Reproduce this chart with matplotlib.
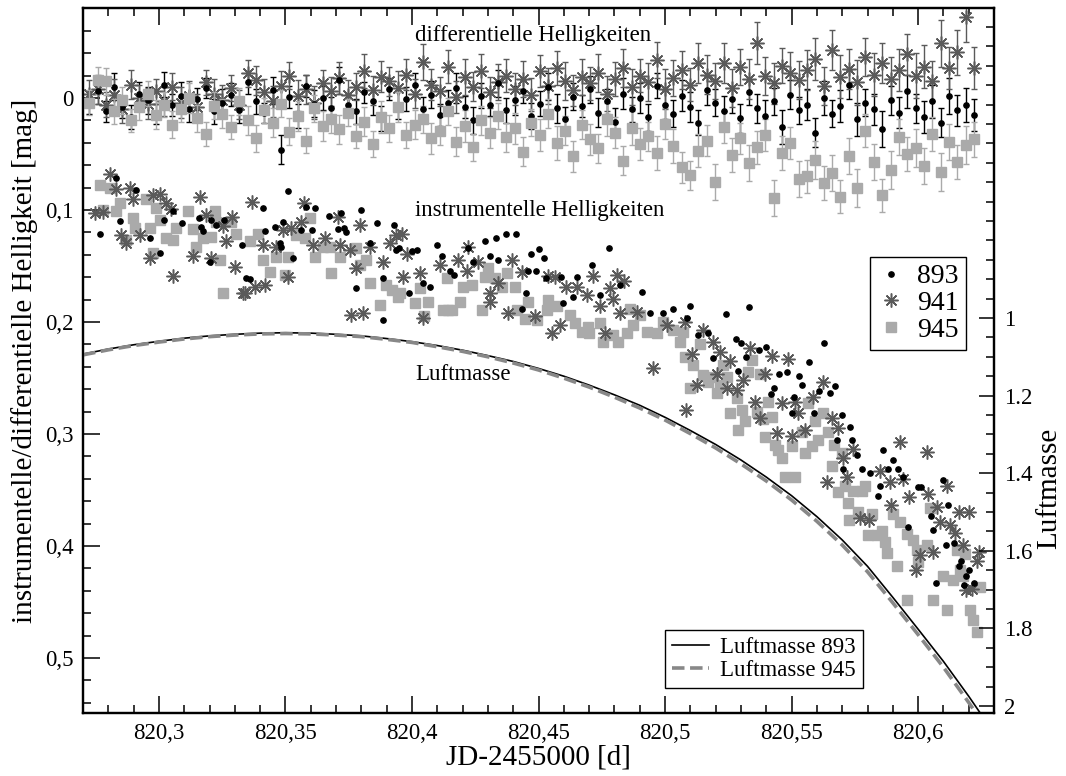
import matplotlib
matplotlib.use('Agg')
import matplotlib.pyplot as plt
from matplotlib.ticker import MultipleLocator, FuncFormatter
import numpy as np

plt.rcParams['font.family'] = ['Liberation Serif', 'DejaVu Serif']
plt.rcParams['lines.scale_dashes'] = False

# --- Luftmasse (airmass) curves ---
t_am = [820.27, 820.28, 820.29, 820.30, 820.31, 820.32, 820.33, 820.34, 820.35, 820.36,
        820.37, 820.38, 820.39, 820.40, 820.41, 820.42, 820.43, 820.44, 820.45, 820.46,
        820.47, 820.48, 820.49, 820.50, 820.51, 820.52, 820.53, 820.54, 820.55, 820.56,
        820.57, 820.58, 820.59, 820.60, 820.61, 820.62, 820.63]
am_893 = [1.093, 1.080, 1.069, 1.060, 1.052, 1.046, 1.042, 1.039, 1.038, 1.039,
          1.042, 1.046, 1.053, 1.061, 1.071, 1.083, 1.097, 1.112, 1.130, 1.150,
          1.173, 1.198, 1.225, 1.256, 1.290, 1.326, 1.366, 1.410, 1.458, 1.512,
          1.572, 1.640, 1.720, 1.802, 1.885, 1.975, 2.070]
am_945 = [1.095, 1.082, 1.071, 1.062, 1.054, 1.048, 1.044, 1.041, 1.040, 1.041,
          1.044, 1.048, 1.055, 1.063, 1.074, 1.086, 1.100, 1.116, 1.134, 1.155,
          1.178, 1.204, 1.232, 1.263, 1.298, 1.335, 1.376, 1.420, 1.469, 1.524,
          1.585, 1.654, 1.734, 1.816, 1.900, 1.991, 2.086]

# --- instrumentelle Helligkeiten ---
t893_i = [820.2766, 820.2830, 820.2845, 820.2910, 820.2965, 820.3004, 820.3020, 820.3055, 820.3090, 820.3160,
          820.3165, 820.3174, 820.3200, 820.3206, 820.3226, 820.3258, 820.3330, 820.3345, 820.3360, 820.3410,
          820.3420, 820.3459, 820.3480, 820.3483, 820.3490, 820.3510, 820.3530, 820.3560, 820.3580, 820.3605,
          820.3615, 820.3670, 820.3708, 820.3720, 820.3730, 820.3740, 820.3780, 820.3800, 820.3834, 820.3860,
          820.3885, 820.3886, 820.3930, 820.3937, 820.3950, 820.3990, 820.4000, 820.4020, 820.4044, 820.4070,
          820.4100, 820.4120, 820.4150, 820.4165, 820.4220, 820.4240, 820.4290, 820.4310, 820.4330, 820.4340,
          820.4370, 820.4410, 820.4435, 820.4450, 820.4460, 820.4470, 820.4490, 820.4500, 820.4520, 820.4530,
          820.4590, 820.4597, 820.4637, 820.4650, 820.4710, 820.4743, 820.4780, 820.4820, 820.4910, 820.4941,
          820.4992, 820.5030, 820.5087, 820.5099, 820.5130, 820.5170, 820.5190, 820.5240, 820.5280, 820.5290,
          820.5300, 820.5320, 820.5330, 820.5370, 820.5400, 820.5420, 820.5430, 820.5450, 820.5480, 820.5500,
          820.5510, 820.5530, 820.5540, 820.5570, 820.5590, 820.5610, 820.5630, 820.5650, 820.5670, 820.5680,
          820.5700, 820.5705, 820.5730, 820.5740, 820.5760, 820.5780, 820.5810, 820.5840, 820.5850, 820.5860,
          820.5880, 820.5900, 820.5920, 820.5940, 820.5960, 820.6000, 820.6010, 820.6050, 820.6060, 820.6070,
          820.6100, 820.6110, 820.6120, 820.6140, 820.6160, 820.6170, 820.6180, 820.6190, 820.6200, 820.6220]
m893_i = [0.121, 0.071, 0.110, 0.082, 0.125, 0.138, 0.109, 0.101, 0.112, 0.107,
          0.115, 0.119, 0.146, 0.109, 0.113, 0.109, 0.131, 0.161, 0.162, 0.098,
          0.119, 0.115, 0.129, 0.133, 0.111, 0.083, 0.143, 0.118, 0.097, 0.118,
          0.098, 0.105, 0.117, 0.103, 0.116, 0.120, 0.170, 0.100, 0.129, 0.112,
          0.198, 0.161, 0.113, 0.136, 0.134, 0.174, 0.137, 0.136, 0.165, 0.169,
          0.131, 0.141, 0.154, 0.158, 0.134, 0.146, 0.128, 0.141, 0.125, 0.145,
          0.121, 0.121, 0.188, 0.174, 0.154, 0.139, 0.154, 0.135, 0.143, 0.161,
          0.160, 0.183, 0.178, 0.160, 0.149, 0.176, 0.134, 0.167, 0.173, 0.192,
          0.192, 0.188, 0.196, 0.186, 0.212, 0.210, 0.232, 0.193, 0.215, 0.244,
          0.219, 0.231, 0.187, 0.225, 0.222, 0.264, 0.259, 0.246, 0.245, 0.281,
          0.267, 0.248, 0.256, 0.236, 0.281, 0.262, 0.219, 0.263, 0.257, 0.305,
          0.283, 0.331, 0.294, 0.305, 0.319, 0.331, 0.335, 0.355, 0.346, 0.314,
          0.331, 0.323, 0.331, 0.338, 0.383, 0.347, 0.347, 0.373, 0.386, 0.433,
          0.341, 0.399, 0.363, 0.397, 0.418, 0.413, 0.435, 0.427, 0.421, 0.433]

t941_i = [820.2747, 820.2779, 820.2807, 820.2830, 820.2850, 820.2870, 820.2886, 820.2898, 820.2925, 820.2965,
          820.2977, 820.3004, 820.3028, 820.3048, 820.3056, 820.3135, 820.3162, 820.3186, 820.3206, 820.3253,
          820.3265, 820.3289, 820.3301, 820.3332, 820.3340, 820.3368, 820.3380, 820.3411, 820.3419, 820.3463,
          820.3491, 820.3510, 820.3522, 820.3562, 820.3574, 820.3609, 820.3657, 820.3708, 820.3716, 820.3755,
          820.3760, 820.3779, 820.3795, 820.3807, 820.3834, 820.3886, 820.3913, 820.3937, 820.3961, 820.3965,
          820.3981, 820.4032, 820.4044, 820.4111, 820.4182, 820.4218, 820.4222, 820.4261, 820.4309, 820.4310,
          820.4340, 820.4380, 820.4396, 820.4435, 820.4487, 820.4538, 820.4554, 820.4566, 820.4585, 820.4609,
          820.4653, 820.4692, 820.4716, 820.4743, 820.4763, 820.4783, 820.4795, 820.4811, 820.4823, 820.4838,
          820.4890, 820.4953, 820.5008, 820.5079, 820.5082, 820.5107, 820.5127, 820.5151, 820.5190, 820.5206,
          820.5218, 820.5245, 820.5257, 820.5285, 820.5309, 820.5336, 820.5356, 820.5376, 820.5396, 820.5423,
          820.5443, 820.5463, 820.5487, 820.5502, 820.5514, 820.5526, 820.5554, 820.5585, 820.5625, 820.5641,
          820.5660, 820.5684, 820.5704, 820.5720, 820.5743, 820.5771, 820.5807, 820.5850, 820.5890, 820.5892,
          820.5929, 820.5941, 820.5965, 820.5992, 820.6008, 820.6036, 820.6040, 820.6060, 820.6075, 820.6087,
          820.6115, 820.6127, 820.6147, 820.6162, 820.6178, 820.6190, 820.6202, 820.6214, 820.6234, 820.6241]
m941_i = [0.103, 0.102, 0.068, 0.081, 0.122, 0.129, 0.080, 0.090, 0.122, 0.143,
          0.087, 0.086, 0.094, 0.099, 0.159, 0.141, 0.088, 0.104, 0.143, 0.114,
          0.128, 0.106, 0.151, 0.174, 0.174, 0.093, 0.169, 0.131, 0.167, 0.133,
          0.118, 0.160, 0.116, 0.111, 0.094, 0.131, 0.125, 0.106, 0.131, 0.136,
          0.194, 0.152, 0.113, 0.192, 0.133, 0.146, 0.129, 0.122, 0.121, 0.160,
          0.139, 0.156, 0.196, 0.149, 0.145, 0.154, 0.133, 0.146, 0.174, 0.182,
          0.165, 0.192, 0.145, 0.155, 0.195, 0.159, 0.210, 0.160, 0.203, 0.169,
          0.169, 0.176, 0.159, 0.186, 0.210, 0.170, 0.179, 0.158, 0.192, 0.163,
          0.191, 0.241, 0.203, 0.200, 0.279, 0.229, 0.256, 0.207, 0.218, 0.246,
          0.227, 0.259, 0.235, 0.261, 0.252, 0.223, 0.271, 0.286, 0.246, 0.230,
          0.299, 0.272, 0.233, 0.302, 0.271, 0.281, 0.296, 0.267, 0.254, 0.343,
          0.286, 0.295, 0.321, 0.338, 0.313, 0.375, 0.377, 0.333, 0.343, 0.363,
          0.307, 0.340, 0.356, 0.421, 0.408, 0.316, 0.354, 0.405, 0.365, 0.379,
          0.346, 0.381, 0.388, 0.370, 0.399, 0.439, 0.370, 0.438, 0.413, 0.405]

t945_i = [820.2766, 820.2779, 820.2807, 820.2830, 820.2846, 820.2870, 820.2898, 820.2906, 820.2949, 820.2965,
          820.2977, 820.2989, 820.3004, 820.3028, 820.3056, 820.3068, 820.3115, 820.3135, 820.3147, 820.3174,
          820.3206, 820.3222, 820.3226, 820.3242, 820.3253, 820.3285, 820.3305, 820.3360, 820.3392, 820.3411,
          820.3439, 820.3463, 820.3498, 820.3510, 820.3542, 820.3577, 820.3597, 820.3617, 820.3649, 820.3676,
          820.3680, 820.3716, 820.3779, 820.3795, 820.3819, 820.3834, 820.3874, 820.3898, 820.3921, 820.3945,
          820.3953, 820.4012, 820.4032, 820.4048, 820.4064, 820.4123, 820.4139, 820.4141, 820.4158, 820.4190,
          820.4202, 820.4238, 820.4277, 820.4289, 820.4301, 820.4328, 820.4356, 820.4376, 820.4408, 820.4415,
          820.4447, 820.4459, 820.4494, 820.4534, 820.4538, 820.4573, 820.4625, 820.4645, 820.4672, 820.4696,
          820.4698, 820.4743, 820.4755, 820.4795, 820.4815, 820.4850, 820.4862, 820.4874, 820.4902, 820.4929,
          820.4969, 820.4992, 820.5032, 820.5060, 820.5072, 820.5079, 820.5099, 820.5111, 820.5139, 820.5151,
          820.5170, 820.5190, 820.5206, 820.5218, 820.5230, 820.5245, 820.5257, 820.5285, 820.5289, 820.5305,
          820.5316, 820.5328, 820.5344, 820.5364, 820.5376, 820.5388, 820.5396, 820.5407, 820.5423, 820.5435,
          820.5447, 820.5463, 820.5475, 820.5502, 820.5514, 820.5542, 820.5554, 820.5566, 820.5581, 820.5593,
          820.5605, 820.5625, 820.5645, 820.5660, 820.5668, 820.5684, 820.5700, 820.5712, 820.5724, 820.5725,
          820.5743, 820.5763, 820.5779, 820.5791, 820.5803, 820.5819, 820.5838, 820.5858, 820.5870, 820.5878,
          820.5902, 820.5917, 820.5929, 820.5957, 820.5958, 820.5981, 820.5996, 820.6000, 820.6036, 820.6048,
          820.6060, 820.6099, 820.6115, 820.6139, 820.6155, 820.6166, 820.6178, 820.6186, 820.6206, 820.6218,
          820.6234, 820.6245]
m945_i = [0.078, 0.100, 0.080, 0.101, 0.094, 0.127, 0.107, 0.116, 0.090, 0.116,
          0.138, 0.098, 0.109, 0.125, 0.127, 0.116, 0.101, 0.117, 0.133, 0.125,
          0.124, 0.101, 0.111, 0.145, 0.174, 0.111, 0.121, 0.128, 0.121, 0.145,
          0.155, 0.142, 0.158, 0.142, 0.122, 0.125, 0.107, 0.142, 0.133, 0.133,
          0.156, 0.142, 0.134, 0.149, 0.145, 0.165, 0.185, 0.167, 0.171, 0.178,
          0.174, 0.183, 0.170, 0.195, 0.182, 0.189, 0.161, 0.189, 0.189, 0.182,
          0.169, 0.167, 0.189, 0.160, 0.152, 0.161, 0.169, 0.156, 0.169, 0.189,
          0.197, 0.182, 0.198, 0.189, 0.180, 0.186, 0.194, 0.201, 0.209, 0.204,
          0.210, 0.201, 0.218, 0.212, 0.218, 0.210, 0.188, 0.203, 0.194, 0.209,
          0.210, 0.200, 0.207, 0.218, 0.209, 0.231, 0.259, 0.238, 0.220, 0.247,
          0.254, 0.249, 0.263, 0.256, 0.238, 0.249, 0.281, 0.268, 0.296, 0.279,
          0.288, 0.245, 0.234, 0.280, 0.246, 0.287, 0.303, 0.271, 0.285, 0.310,
          0.314, 0.321, 0.338, 0.311, 0.338, 0.298, 0.317, 0.272, 0.311, 0.288,
          0.305, 0.281, 0.298, 0.329, 0.310, 0.352, 0.317, 0.346, 0.362, 0.377,
          0.351, 0.370, 0.351, 0.346, 0.390, 0.371, 0.390, 0.387, 0.396, 0.406,
          0.371, 0.418, 0.379, 0.389, 0.448, 0.395, 0.404, 0.414, 0.399, 0.366,
          0.448, 0.427, 0.457, 0.430, 0.404, 0.421, 0.427, 0.407, 0.457, 0.466,
          0.477, 0.437]

# --- differentielle Helligkeiten (same frames for all three stars) ---
t_diff = [820.2725, 820.2758, 820.2790, 820.2822, 820.2855, 820.2890, 820.2921, 820.2955, 820.2988, 820.3020,
          820.3053, 820.3087, 820.3120, 820.3152, 820.3186, 820.3218, 820.3251, 820.3285, 820.3317, 820.3350,
          820.3384, 820.3416, 820.3449, 820.3482, 820.3515, 820.3548, 820.3581, 820.3614, 820.3647, 820.3680,
          820.3713, 820.3746, 820.3779, 820.3812, 820.3845, 820.3878, 820.3911, 820.3944, 820.3977, 820.4010,
          820.4043, 820.4076, 820.4109, 820.4142, 820.4175, 820.4208, 820.4241, 820.4274, 820.4307, 820.4340,
          820.4373, 820.4406, 820.4439, 820.4472, 820.4505, 820.4538, 820.4571, 820.4604, 820.4637, 820.4670,
          820.4703, 820.4736, 820.4769, 820.4802, 820.4835, 820.4868, 820.4901, 820.4934, 820.4967, 820.5000,
          820.5033, 820.5066, 820.5099, 820.5132, 820.5165, 820.5198, 820.5231, 820.5264, 820.5297, 820.5330,
          820.5363, 820.5396, 820.5429, 820.5462, 820.5495, 820.5528, 820.5561, 820.5594, 820.5627, 820.5660,
          820.5693, 820.5726, 820.5759, 820.5792, 820.5825, 820.5858, 820.5891, 820.5924, 820.5957, 820.5990,
          820.6023, 820.6056, 820.6089, 820.6122, 820.6155, 820.6188, 820.6221]
d893 = [0.004, -0.006, 0.012, -0.010, 0.008, 0.017, -0.004, 0.002, 0.014, -0.012,
        0.006, -0.002, 0.010, 0.001, -0.009, 0.012, 0.004, -0.003, 0.011, -0.014,
        0.003, 0.013, -0.007, 0.046, -0.001, 0.016, -0.011, 0.005, 0.000, 0.009,
        -0.016, 0.006, 0.012, -0.005, 0.003, 0.018, -0.008, 0.007, 0.001, -0.012,
        0.010, -0.003, 0.015, 0.004, -0.009, 0.008, 0.020, -0.002, 0.006, -0.013,
        0.011, 0.002, -0.006, 0.016, 0.005, -0.010, 0.009, 0.019, -0.001, 0.007,
        -0.008, 0.013, 0.003, 0.021, -0.004, 0.010, 0.000, 0.017, -0.011, 0.006,
        0.014, -0.002, 0.008, 0.022, -0.007, 0.004, 0.012, 0.001, 0.018, -0.005,
        0.009, 0.016, 0.003, 0.026, -0.003, 0.011, 0.006, 0.031, 0.000, 0.014,
        0.007, -0.012, 0.019, 0.004, 0.010, 0.028, 0.002, 0.013, -0.006, 0.009,
        0.017, 0.003, 0.022, -0.002, 0.011, 0.006, 0.015]
e893 = [0.010, 0.011, 0.009, 0.012, 0.010, 0.011, 0.010, 0.012, 0.009, 0.011,
        0.010, 0.012, 0.011, 0.010, 0.009, 0.011, 0.012, 0.010, 0.011, 0.010,
        0.011, 0.009, 0.012, 0.013, 0.010, 0.011, 0.010, 0.012, 0.011, 0.010,
        0.012, 0.010, 0.011, 0.009, 0.012, 0.011, 0.010, 0.012, 0.011, 0.010,
        0.011, 0.012, 0.010, 0.011, 0.013, 0.010, 0.012, 0.011, 0.010, 0.012,
        0.011, 0.013, 0.010, 0.012, 0.011, 0.012, 0.013, 0.011, 0.012, 0.010,
        0.012, 0.013, 0.011, 0.012, 0.014, 0.011, 0.013, 0.012, 0.011, 0.013,
        0.012, 0.014, 0.013, 0.011, 0.013, 0.012, 0.014, 0.012, 0.013, 0.011,
        0.013, 0.014, 0.012, 0.015, 0.013, 0.012, 0.014, 0.013, 0.015, 0.012,
        0.014, 0.013, 0.015, 0.012, 0.014, 0.016, 0.013, 0.014, 0.015, 0.013,
        0.014, 0.015, 0.013, 0.016, 0.014, 0.015, 0.014]
d941 = [-0.004, -0.008, 0.006, -0.003, 0.010, -0.012, 0.000, 0.005, -0.006, 0.003,
        -0.010, 0.004, -0.002, 0.008, -0.014, -0.004, 0.002, -0.009, 0.006, -0.022,
        -0.016, -0.005, 0.003, -0.011, -0.020, -0.002, -0.008, 0.004, -0.013, -0.006,
        -0.018, -0.003, -0.010, -0.024, -0.007, -0.019, -0.015, -0.009, -0.021, -0.004,
        -0.032, -0.012, -0.006, -0.028, -0.001, -0.019, -0.010, -0.024, -0.005, -0.014,
        -0.020, -0.008, -0.017, -0.003, -0.024, -0.011, -0.027, -0.015, -0.007, -0.019,
        -0.013, -0.022, -0.004, -0.017, -0.027, -0.010, -0.020, -0.014, -0.034, -0.008,
        -0.018, -0.025, -0.012, -0.031, -0.021, -0.015, -0.031, -0.009, -0.028, -0.017,
        -0.049, -0.020, -0.013, -0.029, -0.022, -0.016, -0.025, -0.035, -0.011, -0.043,
        -0.019, -0.026, -0.014, -0.037, -0.021, -0.031, -0.017, -0.025, -0.039, -0.020,
        -0.028, -0.015, -0.049, -0.027, -0.041, -0.072, -0.027]
e941 = [0.012, 0.013, 0.011, 0.014, 0.012, 0.013, 0.012, 0.014, 0.011, 0.013,
        0.012, 0.014, 0.013, 0.012, 0.011, 0.013, 0.014, 0.012, 0.013, 0.012,
        0.013, 0.012, 0.014, 0.013, 0.012, 0.014, 0.013, 0.015, 0.012, 0.013,
        0.014, 0.013, 0.012, 0.015, 0.013, 0.014, 0.013, 0.015, 0.014, 0.013,
        0.016, 0.014, 0.013, 0.015, 0.014, 0.016, 0.013, 0.015, 0.014, 0.016,
        0.015, 0.014, 0.016, 0.015, 0.014, 0.016, 0.015, 0.017, 0.014, 0.016,
        0.015, 0.017, 0.016, 0.015, 0.017, 0.016, 0.015, 0.017, 0.016, 0.018,
        0.016, 0.017, 0.015, 0.018, 0.017, 0.016, 0.018, 0.017, 0.016, 0.018,
        0.019, 0.017, 0.018, 0.016, 0.019, 0.017, 0.018, 0.019, 0.017, 0.018,
        0.019, 0.018, 0.020, 0.017, 0.019, 0.018, 0.020, 0.019, 0.018, 0.020,
        0.019, 0.018, 0.021, 0.019, 0.020, 0.022, 0.019]
d945 = [0.004, -0.016, -0.015, 0.012, 0.002, 0.020, 0.008, -0.004, 0.015, 0.006,
        0.024, 0.010, 0.000, 0.018, 0.032, 0.007, 0.014, 0.026, 0.003, 0.020,
        0.036, 0.011, 0.022, 0.005, 0.030, 0.016, 0.038, 0.009, 0.025, 0.019,
        0.028, 0.013, 0.034, 0.021, 0.041, 0.017, 0.027, 0.008, 0.033, 0.024,
        0.019, 0.036, 0.029, 0.012, 0.039, 0.025, 0.044, 0.020, 0.031, 0.016,
        0.035, 0.027, 0.048, 0.022, 0.033, 0.014, 0.040, 0.029, 0.052, 0.024,
        0.037, 0.045, 0.019, 0.031, 0.056, 0.027, 0.041, 0.034, 0.049, 0.023,
        0.043, 0.062, 0.069, 0.047, 0.038, 0.075, 0.026, 0.051, 0.036, 0.058,
        0.044, 0.033, 0.089, 0.049, 0.040, 0.072, 0.070, 0.055, 0.076, 0.067,
        0.088, 0.052, 0.080, 0.029, 0.057, 0.087, 0.064, 0.035, 0.050, 0.045,
        0.061, 0.032, 0.066, 0.039, 0.057, 0.042, 0.037]
e945 = [0.011, 0.012, 0.012, 0.011, 0.012, 0.010, 0.012, 0.011, 0.013, 0.011,
        0.012, 0.011, 0.013, 0.012, 0.011, 0.012, 0.013, 0.011, 0.012, 0.013,
        0.012, 0.011, 0.013, 0.012, 0.012, 0.013, 0.011, 0.012, 0.013, 0.012,
        0.013, 0.012, 0.011, 0.013, 0.012, 0.014, 0.012, 0.013, 0.012, 0.013,
        0.012, 0.014, 0.013, 0.012, 0.013, 0.014, 0.012, 0.013, 0.014, 0.012,
        0.013, 0.014, 0.013, 0.012, 0.014, 0.013, 0.015, 0.013, 0.014, 0.013,
        0.014, 0.013, 0.015, 0.014, 0.013, 0.015, 0.014, 0.013, 0.015, 0.014,
        0.015, 0.014, 0.013, 0.015, 0.014, 0.016, 0.014, 0.015, 0.014, 0.016,
        0.015, 0.014, 0.016, 0.015, 0.014, 0.016, 0.015, 0.017, 0.015, 0.016,
        0.015, 0.016, 0.017, 0.015, 0.016, 0.015, 0.017, 0.016, 0.015, 0.017,
        0.016, 0.015, 0.017, 0.016, 0.015, 0.017, 0.016]

c893 = 'black'
c941 = '#5a5a5a'
c945 = '#aaaaaa'
ast = (8, 2, 0)  # 8-armed asterisk

fig = plt.figure(figsize=(10.66, 7.76), dpi=100)
ax = fig.add_axes([0.0779, 0.0812, 0.8546, 0.9085])
ax2 = ax.twinx()

# differential magnitudes with error bars
ax.errorbar(t_diff, d893, yerr=e893, fmt='o', ms=3.8, color=c893, ecolor=c893,
            elinewidth=1.0, capsize=2.2, capthick=1.0, zorder=3)
ax.errorbar(t_diff, d941, yerr=e941, fmt='none', ecolor=c941,
            elinewidth=1.0, capsize=2.2, capthick=1.0, zorder=3)
ax.plot(t_diff, d941, ls='none', marker=ast, ms=10, mew=1.1, color=c941, zorder=3)
ax.errorbar(t_diff, d945, yerr=e945, fmt='s', ms=6.5, color=c945, ecolor=c945,
            elinewidth=1.0, capsize=2.2, capthick=1.0, zorder=3)

# instrumental magnitudes
h945, = ax.plot(t945_i, m945_i, ls='none', marker='s', ms=6.5, color=c945, mec=c945, zorder=2)
h941, = ax.plot(t941_i, m941_i, ls='none', marker=ast, ms=10, mew=1.1, color=c941, zorder=3)
h893, = ax.plot(t893_i, m893_i, ls='none', marker='o', ms=3.8, color=c893, zorder=4)

# airmass on the right-hand axis
l893, = ax2.plot(t_am, am_893, color='black', lw=1.2)
l945, = ax2.plot(t_am, am_945, color='#888888', lw=2.6, dashes=(9, 4))

ax.set_xlim(820.27, 820.63)
ax.set_ylim(0.5491, -0.0804)
ax2.set_ylim(2.018, 0.201)

comma = FuncFormatter(lambda v, p: ('%g' % v).replace('.', ','))
ax.xaxis.set_major_locator(MultipleLocator(0.05))
ax.xaxis.set_minor_locator(MultipleLocator(0.01))
ax.xaxis.set_major_formatter(comma)
ax.yaxis.set_major_locator(MultipleLocator(0.1))
ax.yaxis.set_minor_locator(MultipleLocator(0.02))
ax.yaxis.set_major_formatter(comma)
ax2.set_yticks([1.0, 1.2, 1.4, 1.6, 1.8, 2.0])
ax2.yaxis.set_minor_locator(MultipleLocator(0.05))
ax2.yaxis.set_major_formatter(FuncFormatter(lambda v, p: '%g' % v))

ax.tick_params(which='both', direction='in', top=True, labelsize=16.5, width=1.1)
ax.tick_params(which='major', length=12, pad=7)
ax.tick_params(which='minor', length=6)
ax2.tick_params(which='both', direction='in', labelsize=16.5, width=1.1)
ax2.tick_params(which='major', length=11, pad=7)
ax2.tick_params(which='minor', length=6)
for a in (ax, ax2):
    for s in a.spines.values():
        s.set_linewidth(1.6)

ax.set_xlabel('JD-2455000 [d]', fontsize=21)
ax.xaxis.set_label_coords(0.5, -0.045)
ax.set_ylabel('instrumentelle/differentielle Helligkeit [mag]', fontsize=21)
ax.yaxis.set_label_coords(-0.049, 0.5)
ax2.set_ylabel('Luftmasse', fontsize=21)
ax2.yaxis.set_label_coords(1.046, 0.318)

ax.text(820.4012, -0.056, 'differentielle Helligkeiten', fontsize=16.5, ha='left', va='center')
ax.text(820.4012, 0.100, 'instrumentelle Helligkeiten', fontsize=16.5, ha='left', va='center')
ax.text(820.4012, 0.247, 'Luftmasse', fontsize=16.5, ha='left', va='center')

leg1 = ax2.legend([h893, h941, h945], ['893', '941', '945'], loc='upper left',
                  bbox_to_anchor=(0.864, 0.647), fontsize=20, fancybox=False,
                  framealpha=1, edgecolor='black', borderpad=0.25, handlelength=1.0,
                  handletextpad=0.45, labelspacing=0.05, borderaxespad=0)
leg1.get_frame().set_linewidth(1.0)
ax2.add_artist(leg1)
leg2 = ax2.legend([l893, l945], ['Luftmasse 893', 'Luftmasse 945'], loc='upper left',
                  bbox_to_anchor=(0.639, 0.118), fontsize=16.5, fancybox=False,
                  framealpha=1, edgecolor='black', borderpad=0.3, handlelength=1.6,
                  handletextpad=0.5, labelspacing=0.1, borderaxespad=0)
leg2.get_frame().set_linewidth(1.0)

fig.savefig('out.png', dpi=100)
